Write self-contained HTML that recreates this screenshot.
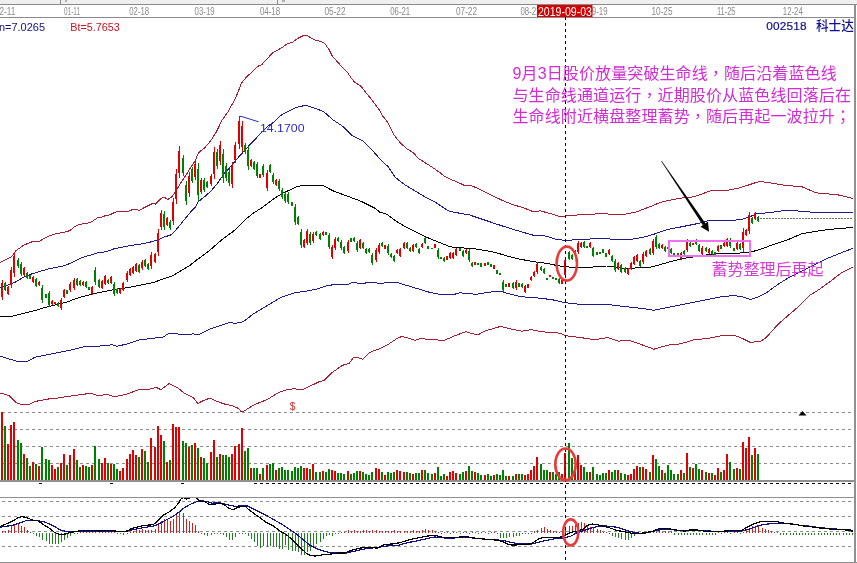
<!DOCTYPE html>
<html><head><meta charset="utf-8"><title>002518 科士达</title>
<style>
html,body{margin:0;padding:0;background:#fff;width:857px;height:563px;overflow:hidden}
svg{display:block}
</style></head><body>
<svg width="857" height="563" viewBox="0 0 857 563">
<defs><clipPath id="mc"><rect x="0" y="18" width="854" height="395"/></clipPath>
<clipPath id="dc"><rect x="0" y="498" width="854" height="64"/></clipPath></defs>
<rect width="857" height="563" fill="#fff"/>

<rect x="0" y="0" width="857" height="4" fill="#efefef"/>
<rect x="0" y="4" width="857" height="1" fill="#8a8a8a"/>
<rect x="0" y="17" width="854" height="1" fill="#8a8a8a"/>
<rect x="60" y="0" width="1" height="4" fill="#8a8a8a"/><rect x="277" y="0" width="1" height="4" fill="#8a8a8a"/>
<rect x="65" y="0" width="2" height="2" fill="#b0b0b0"/><rect x="282" y="0" width="3" height="2" fill="#b0b0b0"/>
<text x="-5" y="15" font-family="Liberation Sans, sans-serif" font-size="10" fill="#8a8a8a" textLength="20.3" lengthAdjust="spacingAndGlyphs">12-11</text>
<text x="64" y="15" font-family="Liberation Sans, sans-serif" font-size="10" fill="#8a8a8a" textLength="16" lengthAdjust="spacingAndGlyphs">01-11</text>
<text x="129.2" y="15" font-family="Liberation Sans, sans-serif" font-size="10" fill="#8a8a8a" textLength="20" lengthAdjust="spacingAndGlyphs">02-18</text>
<text x="194.6" y="15" font-family="Liberation Sans, sans-serif" font-size="10" fill="#8a8a8a" textLength="20" lengthAdjust="spacingAndGlyphs">03-19</text>
<text x="259.9" y="15" font-family="Liberation Sans, sans-serif" font-size="10" fill="#8a8a8a" textLength="20.3" lengthAdjust="spacingAndGlyphs">04-18</text>
<text x="324.5" y="15" font-family="Liberation Sans, sans-serif" font-size="10" fill="#8a8a8a" textLength="21" lengthAdjust="spacingAndGlyphs">05-22</text>
<text x="390.2" y="15" font-family="Liberation Sans, sans-serif" font-size="10" fill="#8a8a8a" textLength="20" lengthAdjust="spacingAndGlyphs">06-21</text>
<text x="456" y="15" font-family="Liberation Sans, sans-serif" font-size="10" fill="#8a8a8a" textLength="21" lengthAdjust="spacingAndGlyphs">07-22</text>
<text x="520.5" y="15" font-family="Liberation Sans, sans-serif" font-size="10" fill="#8a8a8a" textLength="20" lengthAdjust="spacingAndGlyphs">08-22</text>
<text x="587.5" y="15" font-family="Liberation Sans, sans-serif" font-size="10" fill="#8a8a8a" textLength="20" lengthAdjust="spacingAndGlyphs">09-19</text>
<text x="651.5" y="15" font-family="Liberation Sans, sans-serif" font-size="10" fill="#8a8a8a" textLength="21" lengthAdjust="spacingAndGlyphs">10-25</text>
<text x="717" y="15" font-family="Liberation Sans, sans-serif" font-size="10" fill="#8a8a8a" textLength="18.5" lengthAdjust="spacingAndGlyphs">11-25</text>
<text x="782.8" y="15" font-family="Liberation Sans, sans-serif" font-size="10" fill="#8a8a8a" textLength="20" lengthAdjust="spacingAndGlyphs">12-24</text>
<g clip-path="url(#mc)">
<polyline points="0.0,262.6 8.0,258.6 12.0,256.2 16.0,250.6 24.0,245.0 32.0,241.8 40.0,241.0 48.0,236.2 56.0,233.8 64.0,232.2 70.0,230.6 74.7,226.4 79.3,224.5 84.9,223.6 89.6,222.7 92.4,221.3 97.1,218.0 100.8,217.3 105.5,215.7 110.1,214.7 116.7,211.5 127.9,211.3 132.6,209.6 137.2,209.6 139.1,210.5 144.0,207.7 152.7,203.4 155.4,204.2 161.5,198.1 164.2,197.2 167.8,199.4 171.4,197.2 174.2,193.8 176.6,189.7 178.9,186.2 182.3,180.5 187.0,173.5 191.6,166.0 195.1,160.8 198.5,152.7 205.0,147.5 211.2,140.1 216.5,131.6 221.9,120.5 228.3,111.3 234.7,99.6 238.1,92.1 241.2,83.4 243.7,80.3 247.4,76.0 251.2,72.9 256.1,67.9 258.6,66.0 261.7,64.8 264.8,61.1 268.6,57.3 272.3,53.0 277.3,50.5 282.2,47.4 287.2,43.7 292.2,42.4 297.1,38.7 303.2,35.6 307.2,35.6 311.2,38.0 316.0,40.4 320.8,41.5 324.8,43.6 328.8,49.2 332.0,55.6 336.8,61.2 343.2,68.4 348.0,73.2 351.2,78.0 354.4,82.0 359.2,85.2 361.6,86.8 365.6,92.4 370.4,98.0 375.2,104.4 380.0,110.8 381.4,114.4 387.8,122.4 391.0,128.8 394.2,135.2 400.6,143.2 407.0,148.8 413.4,152.8 418.2,158.4 424.6,162.4 431.0,166.4 439.0,172.0 445.4,176.8 451.8,180.0 455.0,181.0 465.3,185.8 471.7,185.8 480.2,189.5 490.9,194.8 501.6,200.1 512.2,204.4 522.9,207.6 533.5,211.8 540.0,210.8 550.6,213.6 559.1,216.5 580.8,214.7 601.6,213.7 622.4,214.7 636.2,212.0 650.0,206.7 659.6,202.7 669.2,200.3 682.0,198.0 691.6,197.1 698.0,195.5 706.0,192.4 712.3,190.3 726.3,190.5 740.2,187.7 750.6,184.3 759.2,181.5 767.9,182.5 781.8,184.9 802.5,187.0 816.4,192.9 837.2,194.7 853.0,198.5" fill="none" stroke="#a81c32" stroke-width="1" stroke-linejoin="round" shape-rendering="crispEdges" />
<polyline points="0.0,392.9 9.3,395.7 16.3,402.7 23.3,405.0 30.3,403.9 35.0,401.5 46.7,399.2 58.3,398.0 70.0,396.1 81.7,394.5 91.0,393.3 98.0,395.7 107.4,394.5 114.4,396.8 126.0,394.5 140.0,389.1 149.4,389.1 156.4,387.5 161.0,389.8 169.2,383.5 177.4,387.5 184.4,393.3 193.7,398.0 197.7,403.5 203.0,400.8 209.8,398.1 216.5,401.3 224.5,404.0 231.7,405.5 238.8,408.6 241.5,412.0 243.3,411.5 254.0,404.8 267.5,399.4 278.2,392.7 286.3,390.0 294.3,388.7 302.4,390.0 310.4,386.0 318.5,382.0 323.8,380.6 331.9,372.6 342.6,365.3 349.3,363.2 353.3,357.8 358.7,357.8 362.7,359.2 369.5,352.5 380.2,348.4 388.2,344.4 396.3,339.0 401.7,336.4 409.7,338.5 415.1,340.4 420.4,338.5 433.4,339.8 444.2,340.3 454.9,335.8 465.6,331.7 477.7,335.0 484.4,331.2 500.5,326.4 508.6,328.5 522.0,331.2 531.4,329.6 540.8,331.7 559.6,333.1 566.3,335.8 581.0,337.6 594.5,339.8 607.9,337.6 618.6,341.1 629.3,340.3 642.8,345.1 653.8,349.2 667.3,345.2 680.7,343.8 694.1,339.8 707.5,338.5 720.9,335.8 734.4,335.2 742.4,338.5 750.5,342.5 761.2,341.1 766.6,337.1 777.3,325.0 788.0,315.6 798.8,306.3 809.5,295.5 820.2,288.8 831.0,280.8 841.7,272.7 853.0,267.0" fill="none" stroke="#a81c32" stroke-width="1" stroke-linejoin="round" shape-rendering="crispEdges" />
<polyline points="0.0,287.5 8.0,285.0 16.0,281.8 24.0,277.0 32.0,273.8 40.0,271.4 48.0,269.0 56.0,267.4 64.0,265.8 72.0,262.6 82.0,257.6 90.0,255.2 98.0,252.8 106.0,251.7 114.0,248.8 122.0,247.2 130.0,245.6 140.0,244.2 148.5,242.6 158.4,239.7 164.1,236.9 170.5,235.2 175.5,230.5 182.8,221.5 190.0,212.7 195.7,207.0 198.5,201.4 204.2,197.1 211.3,190.7 216.4,184.6 225.3,172.2 228.9,168.6 237.8,158.0 246.6,148.2 255.5,139.0 260.8,133.0 268.0,126.0 273.3,122.5 282.2,114.2 290.0,110.7 297.1,107.1 306.0,105.3 314.9,108.2 323.8,111.7 332.7,119.6 343.3,126.7 352.2,135.6 362.9,140.9 371.8,149.8 380.0,159.0 388.5,167.1 394.9,176.7 398.4,180.0 405.6,185.2 416.3,191.6 424.8,196.9 435.4,202.2 448.2,210.8 454.6,212.3 469.6,215.0 482.4,219.3 495.2,223.6 508.0,227.8 518.6,231.0 533.5,235.3 542.1,235.3 550.6,237.4 556.0,239.5 564.8,240.3 574.8,239.9 586.0,239.5 594.7,238.4 606.4,238.6 612.7,239.3 631.3,239.3 643.8,237.1 653.7,234.3 666.0,229.9 682.0,226.7 698.0,223.5 706.0,221.1 714.0,220.5 728.0,220.2 740.9,219.9 749.6,216.8 757.0,213.7 772.0,212.4 779.4,211.2 788.7,210.2 809.5,212.0 830.3,212.7 853.0,212.7" fill="none" stroke="#1e1a8e" stroke-width="1" stroke-linejoin="round" shape-rendering="crispEdges" />
<polyline points="0.0,356.0 7.0,358.3 16.3,361.1 28.0,361.1 35.0,357.2 46.7,354.8 58.3,352.5 70.0,350.2 84.0,346.7 98.0,346.2 112.0,344.8 116.7,346.2 126.0,344.3 140.0,339.7 151.7,338.5 163.4,336.9 168.0,333.8 177.4,333.8 182.0,335.0 193.7,333.8 197.7,335.0 208.4,329.7 221.8,325.1 229.9,322.4 235.3,323.5 243.3,321.6 254.0,313.5 267.5,305.5 280.9,297.4 294.3,292.9 305.0,291.3 315.8,289.4 326.5,285.9 337.2,284.0 349.3,284.0 353.3,282.1 361.4,284.0 366.8,282.7 382.9,283.2 386.9,282.1 398.0,282.8 404.2,284.7 416.7,288.4 429.1,292.2 441.5,294.7 454.0,294.4 460.2,292.8 476.4,294.3 485.1,292.8 497.6,291.0 501.3,291.6 507.5,293.4 520.0,296.5 534.0,297.8 540.8,298.2 554.2,300.1 564.9,302.7 581.0,304.4 594.5,304.9 607.9,304.4 621.3,306.2 634.7,307.6 650.0,309.5 653.8,310.3 667.3,307.6 680.7,304.9 694.1,302.2 707.5,299.5 720.9,296.9 734.4,295.5 742.4,296.9 750.5,299.5 758.5,296.9 766.6,292.8 777.3,284.8 788.0,278.1 801.5,271.4 814.9,264.7 828.3,258.0 841.7,252.6 853.0,248.3" fill="none" stroke="#1e1a8e" stroke-width="1" stroke-linejoin="round" shape-rendering="crispEdges" />
<polyline points="0.0,317.0 11.7,316.3 23.3,313.5 35.0,310.5 46.7,307.0 58.3,304.2 66.0,302.4 72.3,300.0 82.0,296.8 98.0,292.8 114.0,289.6 130.0,287.2 138.0,285.6 153.5,282.4 173.0,275.6 190.0,265.3 197.1,259.6 204.2,254.6 211.3,249.0 218.4,242.6 225.5,236.9 232.6,231.9 238.3,226.9 246.8,218.4 253.9,212.7 260.9,208.4 275.1,197.8 284.0,192.4 292.0,189.2 296.8,186.5 304.8,185.2 311.2,185.5 324.0,186.0 332.7,190.7 346.9,196.0 361.1,201.3 375.3,208.4 380.0,212.3 386.4,214.0 394.9,220.4 405.6,226.8 416.3,232.1 426.9,237.4 437.6,241.7 448.2,246.0 454.0,247.4 465.3,248.1 478.1,249.2 495.2,252.4 507.5,256.1 520.0,259.2 530.0,261.0 537.5,262.3 548.7,263.6 556.1,265.4 563.6,266.7 573.5,267.3 586.0,267.3 600.0,266.7 606.4,266.0 612.7,266.6 625.1,268.5 637.5,267.9 650.0,267.2 658.0,265.3 670.4,261.6 682.9,258.5 695.3,256.6 707.8,254.7 720.2,253.5 728.4,253.5 744.6,252.8 750.8,252.0 759.5,249.7 772.0,245.0 786.0,240.5 802.5,233.5 814.9,231.5 830.3,229.3 841.7,228.4 853.0,227.3" fill="none" stroke="#000" stroke-width="1" stroke-linejoin="round" shape-rendering="crispEdges" />
</g>
<line x1="2" y1="412.5" x2="852" y2="412.5" stroke="#8c8c8c" stroke-width="1" stroke-dasharray="3 3" stroke-dashoffset="0" shape-rendering="crispEdges"/>
<line x1="2" y1="429.5" x2="852" y2="429.5" stroke="#8c8c8c" stroke-width="1" stroke-dasharray="3 3" stroke-dashoffset="0" shape-rendering="crispEdges"/>
<line x1="2" y1="446.5" x2="852" y2="446.5" stroke="#8c8c8c" stroke-width="1" stroke-dasharray="3 3" stroke-dashoffset="0" shape-rendering="crispEdges"/>
<line x1="2" y1="463.5" x2="852" y2="463.5" stroke="#8c8c8c" stroke-width="1" stroke-dasharray="3 3" stroke-dashoffset="0" shape-rendering="crispEdges"/>
<line x1="2" y1="501.5" x2="852" y2="501.5" stroke="#8c8c8c" stroke-width="1" stroke-dasharray="3 3" stroke-dashoffset="0" shape-rendering="crispEdges"/>
<line x1="2" y1="516.5" x2="852" y2="516.5" stroke="#8c8c8c" stroke-width="1" stroke-dasharray="3 3" stroke-dashoffset="0" shape-rendering="crispEdges"/>
<line x1="2" y1="531.5" x2="852" y2="531.5" stroke="#8c8c8c" stroke-width="1" stroke-dasharray="3 3" stroke-dashoffset="0" shape-rendering="crispEdges"/>
<line x1="2" y1="546.5" x2="852" y2="546.5" stroke="#8c8c8c" stroke-width="1" stroke-dasharray="3 3" stroke-dashoffset="0" shape-rendering="crispEdges"/>
<rect x="0" y="480" width="855" height="2" fill="#909090"/>
<rect x="0" y="497" width="855" height="1" fill="#909090"/>
<rect x="0" y="562" width="857" height="1" fill="#909090"/>
<rect x="39" y="483" width="3" height="1" fill="#000"/><rect x="110" y="483" width="3" height="1" fill="#000"/><rect x="181" y="483" width="3" height="1" fill="#000"/>
<line x1="254" y1="483.5" x2="852" y2="483.5" stroke="#000" stroke-width="1" stroke-dasharray="3 3" stroke-dashoffset="0" shape-rendering="crispEdges"/>
<rect x="854" y="4" width="2" height="559" fill="#909090"/>
<g shape-rendering="crispEdges">
<rect x="2" y="280" width="1" height="20" fill="#e00000"/>
<rect x="1" y="283" width="2" height="14" fill="#e00000"/>
<rect x="5" y="282" width="1" height="9" fill="#008000"/>
<rect x="4" y="283" width="2" height="7" fill="#008000"/>
<rect x="8" y="286" width="1" height="9" fill="#e00000"/>
<rect x="7" y="287" width="2" height="7" fill="#e00000"/>
<rect x="11" y="267" width="1" height="21" fill="#e00000"/>
<rect x="10" y="270" width="2" height="15" fill="#e00000"/>
<rect x="14" y="252" width="1" height="25" fill="#e00000"/>
<rect x="13" y="256" width="2" height="17" fill="#e00000"/>
<rect x="18" y="258" width="1" height="10" fill="#008000"/>
<rect x="17" y="260" width="2" height="6" fill="#008000"/>
<rect x="21" y="262" width="1" height="14" fill="#008000"/>
<rect x="20" y="264" width="2" height="10" fill="#008000"/>
<rect x="24" y="267" width="1" height="9" fill="#e00000"/>
<rect x="23" y="268" width="2" height="7" fill="#e00000"/>
<rect x="27" y="272" width="1" height="7" fill="#008000"/>
<rect x="26" y="273" width="2" height="5" fill="#008000"/>
<rect x="30" y="275" width="1" height="4" fill="#008000"/>
<rect x="29" y="275" width="2" height="4" fill="#008000"/>
<rect x="33" y="276" width="1" height="7" fill="#e00000"/>
<rect x="32" y="277" width="2" height="5" fill="#e00000"/>
<rect x="36" y="278" width="1" height="9" fill="#008000"/>
<rect x="35" y="279" width="2" height="7" fill="#008000"/>
<rect x="39" y="281" width="1" height="5" fill="#e00000"/>
<rect x="38" y="282" width="2" height="3" fill="#e00000"/>
<rect x="42" y="285" width="1" height="18" fill="#008000"/>
<rect x="41" y="288" width="2" height="12" fill="#008000"/>
<rect x="46" y="294" width="1" height="4" fill="#008000"/>
<rect x="45" y="294" width="2" height="4" fill="#008000"/>
<rect x="49" y="291" width="1" height="16" fill="#008000"/>
<rect x="48" y="293" width="2" height="12" fill="#008000"/>
<rect x="52" y="300" width="1" height="5" fill="#e00000"/>
<rect x="51" y="301" width="2" height="3" fill="#e00000"/>
<rect x="55" y="302" width="1" height="2" fill="#e00000"/>
<rect x="54" y="302" width="2" height="2" fill="#e00000"/>
<rect x="58" y="302" width="1" height="5" fill="#008000"/>
<rect x="57" y="303" width="2" height="3" fill="#008000"/>
<rect x="61" y="298" width="1" height="12" fill="#e00000"/>
<rect x="60" y="300" width="2" height="8" fill="#e00000"/>
<rect x="64" y="289" width="1" height="9" fill="#e00000"/>
<rect x="63" y="290" width="2" height="7" fill="#e00000"/>
<rect x="67" y="290" width="1" height="4" fill="#008000"/>
<rect x="66" y="290" width="2" height="4" fill="#008000"/>
<rect x="70" y="282" width="1" height="10" fill="#e00000"/>
<rect x="69" y="284" width="2" height="6" fill="#e00000"/>
<rect x="74" y="278" width="1" height="12" fill="#e00000"/>
<rect x="73" y="280" width="2" height="8" fill="#e00000"/>
<rect x="77" y="278" width="1" height="8" fill="#008000"/>
<rect x="76" y="279" width="2" height="6" fill="#008000"/>
<rect x="80" y="280" width="1" height="6" fill="#008000"/>
<rect x="79" y="281" width="2" height="4" fill="#008000"/>
<rect x="83" y="281" width="1" height="5" fill="#e00000"/>
<rect x="82" y="282" width="2" height="3" fill="#e00000"/>
<rect x="86" y="281" width="1" height="7" fill="#008000"/>
<rect x="85" y="282" width="2" height="5" fill="#008000"/>
<rect x="89" y="287" width="1" height="3" fill="#008000"/>
<rect x="88" y="287" width="2" height="3" fill="#008000"/>
<rect x="92" y="286" width="1" height="9" fill="#e00000"/>
<rect x="91" y="287" width="2" height="7" fill="#e00000"/>
<rect x="95" y="267" width="1" height="18" fill="#008000"/>
<rect x="94" y="270" width="2" height="12" fill="#008000"/>
<rect x="99" y="279" width="1" height="9" fill="#008000"/>
<rect x="98" y="280" width="2" height="7" fill="#008000"/>
<rect x="102" y="280" width="1" height="9" fill="#e00000"/>
<rect x="101" y="281" width="2" height="7" fill="#e00000"/>
<rect x="105" y="275" width="1" height="10" fill="#e00000"/>
<rect x="104" y="276" width="2" height="8" fill="#e00000"/>
<rect x="108" y="279" width="1" height="5" fill="#008000"/>
<rect x="107" y="280" width="2" height="3" fill="#008000"/>
<rect x="111" y="276" width="1" height="8" fill="#e00000"/>
<rect x="110" y="277" width="2" height="6" fill="#e00000"/>
<rect x="114" y="282" width="1" height="14" fill="#008000"/>
<rect x="113" y="284" width="2" height="10" fill="#008000"/>
<rect x="117" y="288" width="1" height="6" fill="#008000"/>
<rect x="116" y="289" width="2" height="4" fill="#008000"/>
<rect x="120" y="288" width="1" height="6" fill="#e00000"/>
<rect x="119" y="289" width="2" height="4" fill="#e00000"/>
<rect x="123" y="282" width="1" height="9" fill="#e00000"/>
<rect x="122" y="283" width="2" height="7" fill="#e00000"/>
<rect x="127" y="271" width="1" height="11" fill="#e00000"/>
<rect x="126" y="273" width="2" height="7" fill="#e00000"/>
<rect x="130" y="268" width="1" height="8" fill="#e00000"/>
<rect x="129" y="269" width="2" height="6" fill="#e00000"/>
<rect x="133" y="266" width="1" height="8" fill="#e00000"/>
<rect x="132" y="267" width="2" height="6" fill="#e00000"/>
<rect x="136" y="263" width="1" height="9" fill="#e00000"/>
<rect x="135" y="264" width="2" height="7" fill="#e00000"/>
<rect x="139" y="264" width="1" height="9" fill="#008000"/>
<rect x="138" y="265" width="2" height="7" fill="#008000"/>
<rect x="142" y="260" width="1" height="10" fill="#e00000"/>
<rect x="141" y="262" width="2" height="6" fill="#e00000"/>
<rect x="145" y="259" width="1" height="8" fill="#008000"/>
<rect x="144" y="260" width="2" height="6" fill="#008000"/>
<rect x="148" y="263" width="1" height="7" fill="#008000"/>
<rect x="147" y="264" width="2" height="5" fill="#008000"/>
<rect x="151" y="252" width="1" height="17" fill="#e00000"/>
<rect x="150" y="255" width="2" height="11" fill="#e00000"/>
<rect x="155" y="253" width="1" height="10" fill="#e00000"/>
<rect x="154" y="254" width="2" height="8" fill="#e00000"/>
<rect x="158" y="229" width="1" height="27" fill="#e00000"/>
<rect x="157" y="233" width="2" height="19" fill="#e00000"/>
<rect x="161" y="210" width="1" height="20" fill="#e00000"/>
<rect x="160" y="213" width="2" height="14" fill="#e00000"/>
<rect x="164" y="211" width="1" height="19" fill="#008000"/>
<rect x="163" y="214" width="2" height="13" fill="#008000"/>
<rect x="167" y="217" width="1" height="9" fill="#e00000"/>
<rect x="166" y="218" width="2" height="7" fill="#e00000"/>
<rect x="170" y="220" width="1" height="10" fill="#008000"/>
<rect x="169" y="222" width="2" height="6" fill="#008000"/>
<rect x="173" y="198" width="1" height="27" fill="#e00000"/>
<rect x="172" y="202" width="2" height="19" fill="#e00000"/>
<rect x="176" y="169" width="1" height="35" fill="#e00000"/>
<rect x="175" y="174" width="2" height="25" fill="#e00000"/>
<rect x="179" y="146" width="1" height="32" fill="#e00000"/>
<rect x="178" y="151" width="2" height="22" fill="#e00000"/>
<rect x="183" y="155" width="1" height="21" fill="#008000"/>
<rect x="182" y="158" width="2" height="15" fill="#008000"/>
<rect x="186" y="181" width="1" height="24" fill="#008000"/>
<rect x="185" y="185" width="2" height="16" fill="#008000"/>
<rect x="189" y="172" width="1" height="25" fill="#e00000"/>
<rect x="188" y="176" width="2" height="17" fill="#e00000"/>
<rect x="192" y="167" width="1" height="16" fill="#008000"/>
<rect x="191" y="169" width="2" height="12" fill="#008000"/>
<rect x="195" y="161" width="1" height="19" fill="#e00000"/>
<rect x="194" y="164" width="2" height="13" fill="#e00000"/>
<rect x="198" y="163" width="1" height="38" fill="#008000"/>
<rect x="197" y="169" width="2" height="26" fill="#008000"/>
<rect x="201" y="178" width="1" height="16" fill="#e00000"/>
<rect x="200" y="180" width="2" height="12" fill="#e00000"/>
<rect x="204" y="178" width="1" height="14" fill="#008000"/>
<rect x="203" y="180" width="2" height="10" fill="#008000"/>
<rect x="207" y="181" width="1" height="7" fill="#008000"/>
<rect x="206" y="182" width="2" height="5" fill="#008000"/>
<rect x="211" y="174" width="1" height="12" fill="#e00000"/>
<rect x="210" y="176" width="2" height="8" fill="#e00000"/>
<rect x="214" y="147" width="1" height="32" fill="#e00000"/>
<rect x="213" y="152" width="2" height="22" fill="#e00000"/>
<rect x="217" y="149" width="1" height="20" fill="#008000"/>
<rect x="216" y="152" width="2" height="14" fill="#008000"/>
<rect x="220" y="141" width="1" height="24" fill="#e00000"/>
<rect x="219" y="145" width="2" height="16" fill="#e00000"/>
<rect x="223" y="149" width="1" height="34" fill="#008000"/>
<rect x="222" y="154" width="2" height="24" fill="#008000"/>
<rect x="226" y="163" width="1" height="18" fill="#008000"/>
<rect x="225" y="166" width="2" height="12" fill="#008000"/>
<rect x="229" y="169" width="1" height="17" fill="#008000"/>
<rect x="228" y="172" width="2" height="11" fill="#008000"/>
<rect x="232" y="162" width="1" height="26" fill="#e00000"/>
<rect x="231" y="166" width="2" height="18" fill="#e00000"/>
<rect x="235" y="142" width="1" height="21" fill="#e00000"/>
<rect x="234" y="145" width="2" height="15" fill="#e00000"/>
<rect x="239" y="116" width="1" height="33" fill="#e00000"/>
<rect x="238" y="121" width="2" height="23" fill="#e00000"/>
<rect x="242" y="121" width="1" height="31" fill="#e00000"/>
<rect x="241" y="126" width="2" height="21" fill="#e00000"/>
<rect x="245" y="143" width="1" height="11" fill="#008000"/>
<rect x="244" y="145" width="2" height="7" fill="#008000"/>
<rect x="248" y="146" width="1" height="24" fill="#008000"/>
<rect x="247" y="150" width="2" height="16" fill="#008000"/>
<rect x="251" y="159" width="1" height="8" fill="#e00000"/>
<rect x="250" y="160" width="2" height="6" fill="#e00000"/>
<rect x="254" y="161" width="1" height="9" fill="#008000"/>
<rect x="253" y="162" width="2" height="7" fill="#008000"/>
<rect x="257" y="162" width="1" height="16" fill="#008000"/>
<rect x="256" y="164" width="2" height="12" fill="#008000"/>
<rect x="260" y="174" width="1" height="4" fill="#e00000"/>
<rect x="259" y="174" width="2" height="4" fill="#e00000"/>
<rect x="263" y="164" width="1" height="13" fill="#008000"/>
<rect x="262" y="166" width="2" height="9" fill="#008000"/>
<rect x="267" y="170" width="1" height="21" fill="#e00000"/>
<rect x="266" y="173" width="2" height="15" fill="#e00000"/>
<rect x="270" y="164" width="1" height="9" fill="#008000"/>
<rect x="269" y="165" width="2" height="7" fill="#008000"/>
<rect x="273" y="173" width="1" height="11" fill="#008000"/>
<rect x="272" y="175" width="2" height="7" fill="#008000"/>
<rect x="276" y="179" width="1" height="7" fill="#e00000"/>
<rect x="275" y="180" width="2" height="5" fill="#e00000"/>
<rect x="279" y="179" width="1" height="12" fill="#008000"/>
<rect x="278" y="181" width="2" height="8" fill="#008000"/>
<rect x="282" y="188" width="1" height="11" fill="#008000"/>
<rect x="281" y="190" width="2" height="7" fill="#008000"/>
<rect x="285" y="192" width="1" height="11" fill="#008000"/>
<rect x="284" y="194" width="2" height="7" fill="#008000"/>
<rect x="288" y="192" width="1" height="12" fill="#008000"/>
<rect x="287" y="194" width="2" height="8" fill="#008000"/>
<rect x="292" y="202" width="1" height="4" fill="#008000"/>
<rect x="291" y="202" width="2" height="4" fill="#008000"/>
<rect x="295" y="204" width="1" height="21" fill="#008000"/>
<rect x="294" y="207" width="2" height="15" fill="#008000"/>
<rect x="298" y="216" width="1" height="9" fill="#008000"/>
<rect x="297" y="217" width="2" height="7" fill="#008000"/>
<rect x="301" y="229" width="1" height="19" fill="#008000"/>
<rect x="300" y="232" width="2" height="13" fill="#008000"/>
<rect x="304" y="239" width="1" height="9" fill="#e00000"/>
<rect x="303" y="240" width="2" height="7" fill="#e00000"/>
<rect x="307" y="229" width="1" height="16" fill="#e00000"/>
<rect x="306" y="231" width="2" height="12" fill="#e00000"/>
<rect x="310" y="232" width="1" height="13" fill="#008000"/>
<rect x="309" y="234" width="2" height="9" fill="#008000"/>
<rect x="313" y="232" width="1" height="11" fill="#e00000"/>
<rect x="312" y="234" width="2" height="7" fill="#e00000"/>
<rect x="316" y="231" width="1" height="5" fill="#008000"/>
<rect x="315" y="232" width="2" height="3" fill="#008000"/>
<rect x="320" y="233" width="1" height="7" fill="#008000"/>
<rect x="319" y="234" width="2" height="5" fill="#008000"/>
<rect x="323" y="231" width="1" height="5" fill="#e00000"/>
<rect x="322" y="232" width="2" height="3" fill="#e00000"/>
<rect x="326" y="232" width="1" height="3" fill="#008000"/>
<rect x="325" y="232" width="2" height="3" fill="#008000"/>
<rect x="329" y="233" width="1" height="16" fill="#008000"/>
<rect x="328" y="235" width="2" height="12" fill="#008000"/>
<rect x="332" y="245" width="1" height="14" fill="#e00000"/>
<rect x="331" y="247" width="2" height="10" fill="#e00000"/>
<rect x="335" y="237" width="1" height="13" fill="#e00000"/>
<rect x="334" y="239" width="2" height="9" fill="#e00000"/>
<rect x="338" y="237" width="1" height="5" fill="#008000"/>
<rect x="337" y="238" width="2" height="3" fill="#008000"/>
<rect x="341" y="240" width="1" height="10" fill="#008000"/>
<rect x="340" y="242" width="2" height="6" fill="#008000"/>
<rect x="344" y="246" width="1" height="8" fill="#008000"/>
<rect x="343" y="247" width="2" height="6" fill="#008000"/>
<rect x="348" y="240" width="1" height="13" fill="#e00000"/>
<rect x="347" y="242" width="2" height="9" fill="#e00000"/>
<rect x="351" y="238" width="1" height="4" fill="#008000"/>
<rect x="350" y="238" width="2" height="4" fill="#008000"/>
<rect x="354" y="237" width="1" height="5" fill="#008000"/>
<rect x="353" y="238" width="2" height="3" fill="#008000"/>
<rect x="357" y="241" width="1" height="11" fill="#008000"/>
<rect x="356" y="243" width="2" height="7" fill="#008000"/>
<rect x="360" y="239" width="1" height="10" fill="#e00000"/>
<rect x="359" y="240" width="2" height="8" fill="#e00000"/>
<rect x="363" y="242" width="1" height="7" fill="#008000"/>
<rect x="362" y="243" width="2" height="5" fill="#008000"/>
<rect x="366" y="248" width="1" height="6" fill="#008000"/>
<rect x="365" y="249" width="2" height="4" fill="#008000"/>
<rect x="369" y="248" width="1" height="5" fill="#008000"/>
<rect x="368" y="249" width="2" height="3" fill="#008000"/>
<rect x="372" y="253" width="1" height="12" fill="#008000"/>
<rect x="371" y="255" width="2" height="8" fill="#008000"/>
<rect x="376" y="248" width="1" height="14" fill="#e00000"/>
<rect x="375" y="250" width="2" height="10" fill="#e00000"/>
<rect x="379" y="243" width="1" height="11" fill="#e00000"/>
<rect x="378" y="245" width="2" height="7" fill="#e00000"/>
<rect x="382" y="242" width="1" height="5" fill="#008000"/>
<rect x="381" y="243" width="2" height="3" fill="#008000"/>
<rect x="385" y="245" width="1" height="4" fill="#e00000"/>
<rect x="384" y="245" width="2" height="4" fill="#e00000"/>
<rect x="388" y="244" width="1" height="11" fill="#008000"/>
<rect x="387" y="246" width="2" height="7" fill="#008000"/>
<rect x="391" y="253" width="1" height="5" fill="#008000"/>
<rect x="390" y="254" width="2" height="3" fill="#008000"/>
<rect x="394" y="255" width="1" height="7" fill="#008000"/>
<rect x="393" y="256" width="2" height="5" fill="#008000"/>
<rect x="397" y="249" width="1" height="5" fill="#e00000"/>
<rect x="396" y="250" width="2" height="3" fill="#e00000"/>
<rect x="400" y="248" width="1" height="9" fill="#e00000"/>
<rect x="399" y="249" width="2" height="7" fill="#e00000"/>
<rect x="404" y="242" width="1" height="7" fill="#e00000"/>
<rect x="403" y="243" width="2" height="5" fill="#e00000"/>
<rect x="407" y="242" width="1" height="7" fill="#008000"/>
<rect x="406" y="243" width="2" height="5" fill="#008000"/>
<rect x="410" y="247" width="1" height="5" fill="#008000"/>
<rect x="409" y="248" width="2" height="3" fill="#008000"/>
<rect x="413" y="244" width="1" height="8" fill="#e00000"/>
<rect x="412" y="245" width="2" height="6" fill="#e00000"/>
<rect x="416" y="243" width="1" height="5" fill="#008000"/>
<rect x="415" y="244" width="2" height="3" fill="#008000"/>
<rect x="419" y="248" width="1" height="6" fill="#008000"/>
<rect x="418" y="249" width="2" height="4" fill="#008000"/>
<rect x="422" y="243" width="1" height="5" fill="#e00000"/>
<rect x="421" y="244" width="2" height="3" fill="#e00000"/>
<rect x="425" y="237" width="1" height="7" fill="#008000"/>
<rect x="424" y="238" width="2" height="5" fill="#008000"/>
<rect x="428" y="246" width="1" height="3" fill="#008000"/>
<rect x="427" y="246" width="2" height="3" fill="#008000"/>
<rect x="432" y="248" width="1" height="1" fill="#008000"/>
<rect x="431" y="248" width="2" height="1" fill="#008000"/>
<rect x="435" y="244" width="1" height="4" fill="#e00000"/>
<rect x="434" y="244" width="2" height="4" fill="#e00000"/>
<rect x="438" y="248" width="1" height="11" fill="#008000"/>
<rect x="437" y="250" width="2" height="7" fill="#008000"/>
<rect x="441" y="257" width="1" height="2" fill="#008000"/>
<rect x="440" y="257" width="2" height="2" fill="#008000"/>
<rect x="444" y="257" width="1" height="5" fill="#008000"/>
<rect x="443" y="258" width="2" height="3" fill="#008000"/>
<rect x="447" y="256" width="1" height="4" fill="#e00000"/>
<rect x="446" y="256" width="2" height="4" fill="#e00000"/>
<rect x="450" y="252" width="1" height="7" fill="#e00000"/>
<rect x="449" y="253" width="2" height="5" fill="#e00000"/>
<rect x="453" y="252" width="1" height="7" fill="#e00000"/>
<rect x="452" y="253" width="2" height="5" fill="#e00000"/>
<rect x="456" y="248" width="1" height="8" fill="#e00000"/>
<rect x="455" y="249" width="2" height="6" fill="#e00000"/>
<rect x="460" y="248" width="1" height="3" fill="#008000"/>
<rect x="459" y="248" width="2" height="3" fill="#008000"/>
<rect x="463" y="250" width="1" height="7" fill="#008000"/>
<rect x="462" y="251" width="2" height="5" fill="#008000"/>
<rect x="466" y="249" width="1" height="5" fill="#e00000"/>
<rect x="465" y="250" width="2" height="3" fill="#e00000"/>
<rect x="469" y="249" width="1" height="13" fill="#008000"/>
<rect x="468" y="251" width="2" height="9" fill="#008000"/>
<rect x="472" y="262" width="1" height="5" fill="#008000"/>
<rect x="471" y="263" width="2" height="3" fill="#008000"/>
<rect x="475" y="262" width="1" height="3" fill="#e00000"/>
<rect x="474" y="262" width="2" height="3" fill="#e00000"/>
<rect x="478" y="263" width="1" height="2" fill="#008000"/>
<rect x="477" y="263" width="2" height="2" fill="#008000"/>
<rect x="481" y="263" width="1" height="4" fill="#008000"/>
<rect x="480" y="263" width="2" height="4" fill="#008000"/>
<rect x="485" y="263" width="1" height="3" fill="#e00000"/>
<rect x="484" y="263" width="2" height="3" fill="#e00000"/>
<rect x="488" y="262" width="1" height="3" fill="#008000"/>
<rect x="487" y="262" width="2" height="3" fill="#008000"/>
<rect x="491" y="264" width="1" height="3" fill="#008000"/>
<rect x="490" y="264" width="2" height="3" fill="#008000"/>
<rect x="494" y="265" width="1" height="4" fill="#e00000"/>
<rect x="493" y="265" width="2" height="4" fill="#e00000"/>
<rect x="497" y="270" width="1" height="4" fill="#008000"/>
<rect x="496" y="270" width="2" height="4" fill="#008000"/>
<rect x="500" y="273" width="1" height="2" fill="#008000"/>
<rect x="499" y="273" width="2" height="2" fill="#008000"/>
<rect x="503" y="280" width="1" height="12" fill="#008000"/>
<rect x="502" y="282" width="2" height="8" fill="#008000"/>
<rect x="506" y="284" width="1" height="3" fill="#008000"/>
<rect x="505" y="284" width="2" height="3" fill="#008000"/>
<rect x="509" y="283" width="1" height="4" fill="#e00000"/>
<rect x="508" y="283" width="2" height="4" fill="#e00000"/>
<rect x="513" y="282" width="1" height="7" fill="#008000"/>
<rect x="512" y="283" width="2" height="5" fill="#008000"/>
<rect x="516" y="280" width="1" height="10" fill="#e00000"/>
<rect x="515" y="282" width="2" height="6" fill="#e00000"/>
<rect x="519" y="283" width="1" height="4" fill="#008000"/>
<rect x="518" y="283" width="2" height="4" fill="#008000"/>
<rect x="522" y="283" width="1" height="5" fill="#008000"/>
<rect x="521" y="284" width="2" height="3" fill="#008000"/>
<rect x="525" y="285" width="1" height="8" fill="#e00000"/>
<rect x="524" y="286" width="2" height="6" fill="#e00000"/>
<rect x="528" y="284" width="1" height="4" fill="#e00000"/>
<rect x="527" y="284" width="2" height="4" fill="#e00000"/>
<rect x="531" y="276" width="1" height="5" fill="#e00000"/>
<rect x="530" y="277" width="2" height="3" fill="#e00000"/>
<rect x="534" y="271" width="1" height="6" fill="#e00000"/>
<rect x="533" y="272" width="2" height="4" fill="#e00000"/>
<rect x="537" y="262" width="1" height="12" fill="#e00000"/>
<rect x="536" y="264" width="2" height="8" fill="#e00000"/>
<rect x="541" y="266" width="1" height="5" fill="#008000"/>
<rect x="540" y="267" width="2" height="3" fill="#008000"/>
<rect x="544" y="268" width="1" height="6" fill="#008000"/>
<rect x="543" y="269" width="2" height="4" fill="#008000"/>
<rect x="547" y="278" width="1" height="2" fill="#008000"/>
<rect x="546" y="278" width="2" height="2" fill="#008000"/>
<rect x="550" y="275" width="1" height="2" fill="#e00000"/>
<rect x="549" y="275" width="2" height="2" fill="#e00000"/>
<rect x="553" y="277" width="1" height="2" fill="#008000"/>
<rect x="552" y="277" width="2" height="2" fill="#008000"/>
<rect x="556" y="278" width="1" height="2" fill="#008000"/>
<rect x="555" y="278" width="2" height="2" fill="#008000"/>
<rect x="559" y="278" width="1" height="6" fill="#008000"/>
<rect x="558" y="279" width="2" height="4" fill="#008000"/>
<rect x="562" y="280" width="1" height="4" fill="#e00000"/>
<rect x="561" y="280" width="2" height="4" fill="#e00000"/>
<rect x="565" y="257" width="1" height="21" fill="#e00000"/>
<rect x="564" y="260" width="2" height="15" fill="#e00000"/>
<rect x="569" y="251" width="1" height="9" fill="#008000"/>
<rect x="568" y="252" width="2" height="7" fill="#008000"/>
<rect x="572" y="254" width="1" height="6" fill="#008000"/>
<rect x="571" y="255" width="2" height="4" fill="#008000"/>
<rect x="575" y="250" width="1" height="6" fill="#e00000"/>
<rect x="574" y="251" width="2" height="4" fill="#e00000"/>
<rect x="578" y="241" width="1" height="13" fill="#e00000"/>
<rect x="577" y="243" width="2" height="9" fill="#e00000"/>
<rect x="581" y="242" width="1" height="6" fill="#e00000"/>
<rect x="580" y="243" width="2" height="4" fill="#e00000"/>
<rect x="584" y="241" width="1" height="7" fill="#008000"/>
<rect x="583" y="242" width="2" height="5" fill="#008000"/>
<rect x="587" y="246" width="1" height="2" fill="#008000"/>
<rect x="586" y="246" width="2" height="2" fill="#008000"/>
<rect x="590" y="242" width="1" height="6" fill="#e00000"/>
<rect x="589" y="243" width="2" height="4" fill="#e00000"/>
<rect x="593" y="247" width="1" height="10" fill="#008000"/>
<rect x="592" y="248" width="2" height="8" fill="#008000"/>
<rect x="597" y="252" width="1" height="3" fill="#008000"/>
<rect x="596" y="252" width="2" height="3" fill="#008000"/>
<rect x="600" y="252" width="1" height="2" fill="#008000"/>
<rect x="599" y="252" width="2" height="2" fill="#008000"/>
<rect x="603" y="249" width="1" height="4" fill="#008000"/>
<rect x="602" y="249" width="2" height="4" fill="#008000"/>
<rect x="606" y="253" width="1" height="4" fill="#008000"/>
<rect x="605" y="253" width="2" height="4" fill="#008000"/>
<rect x="609" y="249" width="1" height="6" fill="#e00000"/>
<rect x="608" y="250" width="2" height="4" fill="#e00000"/>
<rect x="612" y="255" width="1" height="7" fill="#008000"/>
<rect x="611" y="256" width="2" height="5" fill="#008000"/>
<rect x="615" y="259" width="1" height="13" fill="#008000"/>
<rect x="614" y="261" width="2" height="9" fill="#008000"/>
<rect x="618" y="262" width="1" height="8" fill="#e00000"/>
<rect x="617" y="263" width="2" height="6" fill="#e00000"/>
<rect x="621" y="264" width="1" height="9" fill="#008000"/>
<rect x="620" y="265" width="2" height="7" fill="#008000"/>
<rect x="625" y="267" width="1" height="6" fill="#008000"/>
<rect x="624" y="268" width="2" height="4" fill="#008000"/>
<rect x="628" y="268" width="1" height="7" fill="#e00000"/>
<rect x="627" y="269" width="2" height="5" fill="#e00000"/>
<rect x="631" y="262" width="1" height="8" fill="#e00000"/>
<rect x="630" y="263" width="2" height="6" fill="#e00000"/>
<rect x="634" y="256" width="1" height="9" fill="#e00000"/>
<rect x="633" y="257" width="2" height="7" fill="#e00000"/>
<rect x="637" y="254" width="1" height="8" fill="#e00000"/>
<rect x="636" y="255" width="2" height="6" fill="#e00000"/>
<rect x="640" y="260" width="1" height="7" fill="#008000"/>
<rect x="639" y="261" width="2" height="5" fill="#008000"/>
<rect x="643" y="252" width="1" height="12" fill="#e00000"/>
<rect x="642" y="254" width="2" height="8" fill="#e00000"/>
<rect x="646" y="250" width="1" height="7" fill="#e00000"/>
<rect x="645" y="251" width="2" height="5" fill="#e00000"/>
<rect x="650" y="248" width="1" height="7" fill="#008000"/>
<rect x="649" y="249" width="2" height="5" fill="#008000"/>
<rect x="653" y="239" width="1" height="16" fill="#e00000"/>
<rect x="652" y="241" width="2" height="12" fill="#e00000"/>
<rect x="656" y="235" width="1" height="14" fill="#008000"/>
<rect x="655" y="237" width="2" height="10" fill="#008000"/>
<rect x="659" y="243" width="1" height="6" fill="#008000"/>
<rect x="658" y="244" width="2" height="4" fill="#008000"/>
<rect x="662" y="244" width="1" height="5" fill="#e00000"/>
<rect x="661" y="245" width="2" height="3" fill="#e00000"/>
<rect x="665" y="246" width="1" height="6" fill="#008000"/>
<rect x="664" y="247" width="2" height="4" fill="#008000"/>
<rect x="668" y="247" width="1" height="2" fill="#008000"/>
<rect x="667" y="247" width="2" height="2" fill="#008000"/>
<rect x="671" y="248" width="1" height="6" fill="#008000"/>
<rect x="670" y="249" width="2" height="4" fill="#008000"/>
<rect x="674" y="253" width="1" height="4" fill="#008000"/>
<rect x="673" y="253" width="2" height="4" fill="#008000"/>
<rect x="678" y="253" width="1" height="3" fill="#008000"/>
<rect x="677" y="253" width="2" height="3" fill="#008000"/>
<rect x="681" y="252" width="1" height="8" fill="#e00000"/>
<rect x="680" y="253" width="2" height="6" fill="#e00000"/>
<rect x="684" y="250" width="1" height="5" fill="#008000"/>
<rect x="683" y="251" width="2" height="3" fill="#008000"/>
<rect x="687" y="239" width="1" height="13" fill="#e00000"/>
<rect x="686" y="241" width="2" height="9" fill="#e00000"/>
<rect x="690" y="242" width="1" height="5" fill="#008000"/>
<rect x="689" y="243" width="2" height="3" fill="#008000"/>
<rect x="693" y="243" width="1" height="2" fill="#e00000"/>
<rect x="692" y="243" width="2" height="2" fill="#e00000"/>
<rect x="696" y="239" width="1" height="6" fill="#008000"/>
<rect x="695" y="240" width="2" height="4" fill="#008000"/>
<rect x="699" y="244" width="1" height="8" fill="#008000"/>
<rect x="698" y="245" width="2" height="6" fill="#008000"/>
<rect x="702" y="246" width="1" height="10" fill="#e00000"/>
<rect x="701" y="248" width="2" height="6" fill="#e00000"/>
<rect x="706" y="247" width="1" height="5" fill="#008000"/>
<rect x="705" y="248" width="2" height="3" fill="#008000"/>
<rect x="709" y="248" width="1" height="6" fill="#e00000"/>
<rect x="708" y="249" width="2" height="4" fill="#e00000"/>
<rect x="712" y="250" width="1" height="5" fill="#008000"/>
<rect x="711" y="251" width="2" height="3" fill="#008000"/>
<rect x="715" y="252" width="1" height="3" fill="#008000"/>
<rect x="714" y="252" width="2" height="3" fill="#008000"/>
<rect x="718" y="245" width="1" height="7" fill="#e00000"/>
<rect x="717" y="246" width="2" height="5" fill="#e00000"/>
<rect x="721" y="245" width="1" height="4" fill="#008000"/>
<rect x="720" y="245" width="2" height="4" fill="#008000"/>
<rect x="724" y="242" width="1" height="5" fill="#e00000"/>
<rect x="723" y="243" width="2" height="3" fill="#e00000"/>
<rect x="727" y="238" width="1" height="9" fill="#e00000"/>
<rect x="726" y="239" width="2" height="7" fill="#e00000"/>
<rect x="730" y="238" width="1" height="10" fill="#008000"/>
<rect x="729" y="240" width="2" height="6" fill="#008000"/>
<rect x="734" y="248" width="1" height="3" fill="#008000"/>
<rect x="733" y="248" width="2" height="3" fill="#008000"/>
<rect x="737" y="242" width="1" height="8" fill="#e00000"/>
<rect x="736" y="243" width="2" height="6" fill="#e00000"/>
<rect x="740" y="243" width="1" height="7" fill="#008000"/>
<rect x="739" y="244" width="2" height="5" fill="#008000"/>
<rect x="743" y="228" width="1" height="24" fill="#e00000"/>
<rect x="742" y="232" width="2" height="16" fill="#e00000"/>
<rect x="746" y="229" width="1" height="7" fill="#e00000"/>
<rect x="745" y="230" width="2" height="5" fill="#e00000"/>
<rect x="749" y="212" width="1" height="22" fill="#e00000"/>
<rect x="748" y="215" width="2" height="16" fill="#e00000"/>
<rect x="752" y="217" width="1" height="7" fill="#008000"/>
<rect x="751" y="218" width="2" height="5" fill="#008000"/>
<rect x="755" y="212" width="1" height="8" fill="#e00000"/>
<rect x="754" y="213" width="2" height="6" fill="#e00000"/>
<rect x="758" y="216" width="1" height="6" fill="#008000"/>
<rect x="757" y="217" width="2" height="4" fill="#008000"/>
<rect x="1" y="412" width="2" height="68" fill="#e00000"/>
<rect x="4" y="426" width="2" height="54" fill="#008000"/>
<rect x="7" y="444" width="2" height="36" fill="#e00000"/>
<rect x="10" y="425" width="2" height="55" fill="#e00000"/>
<rect x="13" y="422" width="2" height="58" fill="#e00000"/>
<rect x="17" y="440" width="2" height="40" fill="#008000"/>
<rect x="20" y="443" width="2" height="37" fill="#008000"/>
<rect x="23" y="454" width="2" height="26" fill="#e00000"/>
<rect x="26" y="458" width="2" height="22" fill="#008000"/>
<rect x="29" y="466" width="2" height="14" fill="#008000"/>
<rect x="32" y="462" width="2" height="18" fill="#e00000"/>
<rect x="35" y="464" width="2" height="16" fill="#008000"/>
<rect x="38" y="466" width="2" height="14" fill="#e00000"/>
<rect x="41" y="447" width="2" height="33" fill="#008000"/>
<rect x="45" y="459" width="2" height="21" fill="#008000"/>
<rect x="48" y="460" width="2" height="20" fill="#008000"/>
<rect x="51" y="465" width="2" height="15" fill="#e00000"/>
<rect x="54" y="469" width="2" height="11" fill="#e00000"/>
<rect x="57" y="467" width="2" height="13" fill="#008000"/>
<rect x="60" y="463" width="2" height="17" fill="#e00000"/>
<rect x="63" y="454" width="2" height="26" fill="#e00000"/>
<rect x="66" y="465" width="2" height="15" fill="#008000"/>
<rect x="69" y="455" width="2" height="25" fill="#e00000"/>
<rect x="73" y="449" width="2" height="31" fill="#e00000"/>
<rect x="76" y="460" width="2" height="20" fill="#008000"/>
<rect x="79" y="467" width="2" height="13" fill="#008000"/>
<rect x="82" y="465" width="2" height="15" fill="#e00000"/>
<rect x="85" y="466" width="2" height="14" fill="#008000"/>
<rect x="88" y="467" width="2" height="13" fill="#008000"/>
<rect x="91" y="465" width="2" height="15" fill="#e00000"/>
<rect x="94" y="446" width="2" height="34" fill="#008000"/>
<rect x="98" y="459" width="2" height="21" fill="#008000"/>
<rect x="101" y="463" width="2" height="17" fill="#e00000"/>
<rect x="104" y="458" width="2" height="22" fill="#e00000"/>
<rect x="107" y="463" width="2" height="17" fill="#008000"/>
<rect x="110" y="464" width="2" height="16" fill="#e00000"/>
<rect x="113" y="464" width="2" height="16" fill="#008000"/>
<rect x="116" y="469" width="2" height="11" fill="#008000"/>
<rect x="119" y="471" width="2" height="9" fill="#e00000"/>
<rect x="122" y="468" width="2" height="12" fill="#e00000"/>
<rect x="126" y="459" width="2" height="21" fill="#e00000"/>
<rect x="129" y="454" width="2" height="26" fill="#e00000"/>
<rect x="132" y="450" width="2" height="30" fill="#e00000"/>
<rect x="135" y="455" width="2" height="25" fill="#e00000"/>
<rect x="138" y="457" width="2" height="23" fill="#008000"/>
<rect x="141" y="449" width="2" height="31" fill="#e00000"/>
<rect x="144" y="451" width="2" height="29" fill="#008000"/>
<rect x="147" y="462" width="2" height="18" fill="#008000"/>
<rect x="150" y="438" width="2" height="42" fill="#e00000"/>
<rect x="154" y="447" width="2" height="33" fill="#e00000"/>
<rect x="157" y="426" width="2" height="54" fill="#e00000"/>
<rect x="160" y="435" width="2" height="45" fill="#e00000"/>
<rect x="163" y="441" width="2" height="39" fill="#008000"/>
<rect x="166" y="462" width="2" height="18" fill="#e00000"/>
<rect x="169" y="460" width="2" height="20" fill="#008000"/>
<rect x="172" y="424" width="2" height="56" fill="#e00000"/>
<rect x="175" y="427" width="2" height="53" fill="#e00000"/>
<rect x="178" y="427" width="2" height="53" fill="#e00000"/>
<rect x="182" y="441" width="2" height="39" fill="#008000"/>
<rect x="185" y="443" width="2" height="37" fill="#008000"/>
<rect x="188" y="447" width="2" height="33" fill="#e00000"/>
<rect x="191" y="445" width="2" height="35" fill="#008000"/>
<rect x="194" y="443" width="2" height="37" fill="#e00000"/>
<rect x="197" y="448" width="2" height="32" fill="#008000"/>
<rect x="200" y="457" width="2" height="23" fill="#e00000"/>
<rect x="203" y="458" width="2" height="22" fill="#008000"/>
<rect x="206" y="463" width="2" height="17" fill="#008000"/>
<rect x="210" y="452" width="2" height="28" fill="#e00000"/>
<rect x="213" y="440" width="2" height="40" fill="#e00000"/>
<rect x="216" y="457" width="2" height="23" fill="#008000"/>
<rect x="219" y="454" width="2" height="26" fill="#e00000"/>
<rect x="222" y="455" width="2" height="25" fill="#008000"/>
<rect x="225" y="455" width="2" height="25" fill="#008000"/>
<rect x="228" y="457" width="2" height="23" fill="#008000"/>
<rect x="231" y="454" width="2" height="26" fill="#e00000"/>
<rect x="234" y="446" width="2" height="34" fill="#e00000"/>
<rect x="238" y="444" width="2" height="36" fill="#e00000"/>
<rect x="241" y="428" width="2" height="52" fill="#e00000"/>
<rect x="244" y="451" width="2" height="29" fill="#008000"/>
<rect x="247" y="448" width="2" height="32" fill="#008000"/>
<rect x="250" y="468" width="2" height="12" fill="#e00000"/>
<rect x="253" y="468" width="2" height="12" fill="#008000"/>
<rect x="256" y="468" width="2" height="12" fill="#008000"/>
<rect x="259" y="474" width="2" height="6" fill="#e00000"/>
<rect x="262" y="468" width="2" height="12" fill="#008000"/>
<rect x="266" y="465" width="2" height="15" fill="#e00000"/>
<rect x="269" y="464" width="2" height="16" fill="#008000"/>
<rect x="272" y="463" width="2" height="17" fill="#008000"/>
<rect x="275" y="470" width="2" height="10" fill="#e00000"/>
<rect x="278" y="468" width="2" height="12" fill="#008000"/>
<rect x="281" y="467" width="2" height="13" fill="#008000"/>
<rect x="284" y="470" width="2" height="10" fill="#008000"/>
<rect x="287" y="470" width="2" height="10" fill="#008000"/>
<rect x="291" y="471" width="2" height="9" fill="#008000"/>
<rect x="294" y="467" width="2" height="13" fill="#008000"/>
<rect x="297" y="468" width="2" height="12" fill="#008000"/>
<rect x="300" y="466" width="2" height="14" fill="#008000"/>
<rect x="303" y="468" width="2" height="12" fill="#e00000"/>
<rect x="306" y="468" width="2" height="12" fill="#e00000"/>
<rect x="309" y="469" width="2" height="11" fill="#008000"/>
<rect x="312" y="464" width="2" height="16" fill="#e00000"/>
<rect x="315" y="472" width="2" height="8" fill="#008000"/>
<rect x="319" y="472" width="2" height="8" fill="#008000"/>
<rect x="322" y="471" width="2" height="9" fill="#e00000"/>
<rect x="325" y="472" width="2" height="8" fill="#008000"/>
<rect x="328" y="469" width="2" height="11" fill="#008000"/>
<rect x="331" y="470" width="2" height="10" fill="#e00000"/>
<rect x="334" y="471" width="2" height="9" fill="#e00000"/>
<rect x="337" y="473" width="2" height="7" fill="#008000"/>
<rect x="340" y="473" width="2" height="7" fill="#008000"/>
<rect x="343" y="474" width="2" height="6" fill="#008000"/>
<rect x="347" y="471" width="2" height="9" fill="#e00000"/>
<rect x="350" y="474" width="2" height="6" fill="#008000"/>
<rect x="353" y="473" width="2" height="7" fill="#008000"/>
<rect x="356" y="471" width="2" height="9" fill="#008000"/>
<rect x="359" y="471" width="2" height="9" fill="#e00000"/>
<rect x="362" y="472" width="2" height="8" fill="#008000"/>
<rect x="365" y="474" width="2" height="6" fill="#008000"/>
<rect x="368" y="475" width="2" height="5" fill="#008000"/>
<rect x="371" y="472" width="2" height="8" fill="#008000"/>
<rect x="375" y="468" width="2" height="12" fill="#e00000"/>
<rect x="378" y="469" width="2" height="11" fill="#e00000"/>
<rect x="381" y="472" width="2" height="8" fill="#008000"/>
<rect x="384" y="475" width="2" height="5" fill="#e00000"/>
<rect x="387" y="472" width="2" height="8" fill="#008000"/>
<rect x="390" y="473" width="2" height="7" fill="#008000"/>
<rect x="393" y="472" width="2" height="8" fill="#008000"/>
<rect x="396" y="470" width="2" height="10" fill="#e00000"/>
<rect x="399" y="471" width="2" height="9" fill="#e00000"/>
<rect x="403" y="472" width="2" height="8" fill="#e00000"/>
<rect x="406" y="472" width="2" height="8" fill="#008000"/>
<rect x="409" y="473" width="2" height="7" fill="#008000"/>
<rect x="412" y="474" width="2" height="6" fill="#e00000"/>
<rect x="415" y="473" width="2" height="7" fill="#008000"/>
<rect x="418" y="473" width="2" height="7" fill="#008000"/>
<rect x="421" y="470" width="2" height="10" fill="#e00000"/>
<rect x="424" y="470" width="2" height="10" fill="#008000"/>
<rect x="427" y="473" width="2" height="7" fill="#008000"/>
<rect x="431" y="474" width="2" height="6" fill="#008000"/>
<rect x="434" y="473" width="2" height="7" fill="#e00000"/>
<rect x="437" y="467" width="2" height="13" fill="#008000"/>
<rect x="440" y="476" width="2" height="4" fill="#008000"/>
<rect x="443" y="474" width="2" height="6" fill="#008000"/>
<rect x="446" y="476" width="2" height="4" fill="#e00000"/>
<rect x="449" y="472" width="2" height="8" fill="#e00000"/>
<rect x="452" y="471" width="2" height="9" fill="#e00000"/>
<rect x="455" y="473" width="2" height="7" fill="#e00000"/>
<rect x="459" y="474" width="2" height="6" fill="#008000"/>
<rect x="462" y="472" width="2" height="8" fill="#008000"/>
<rect x="465" y="471" width="2" height="9" fill="#e00000"/>
<rect x="468" y="466" width="2" height="14" fill="#008000"/>
<rect x="471" y="471" width="2" height="9" fill="#008000"/>
<rect x="474" y="472" width="2" height="8" fill="#e00000"/>
<rect x="477" y="473" width="2" height="7" fill="#008000"/>
<rect x="480" y="475" width="2" height="5" fill="#008000"/>
<rect x="484" y="475" width="2" height="5" fill="#e00000"/>
<rect x="487" y="474" width="2" height="6" fill="#008000"/>
<rect x="490" y="476" width="2" height="4" fill="#008000"/>
<rect x="493" y="475" width="2" height="5" fill="#e00000"/>
<rect x="496" y="474" width="2" height="6" fill="#008000"/>
<rect x="499" y="475" width="2" height="5" fill="#008000"/>
<rect x="502" y="470" width="2" height="10" fill="#008000"/>
<rect x="505" y="476" width="2" height="4" fill="#008000"/>
<rect x="508" y="476" width="2" height="4" fill="#e00000"/>
<rect x="512" y="476" width="2" height="4" fill="#008000"/>
<rect x="515" y="474" width="2" height="6" fill="#e00000"/>
<rect x="518" y="474" width="2" height="6" fill="#008000"/>
<rect x="521" y="474" width="2" height="6" fill="#008000"/>
<rect x="524" y="475" width="2" height="5" fill="#e00000"/>
<rect x="527" y="474" width="2" height="6" fill="#e00000"/>
<rect x="530" y="470" width="2" height="10" fill="#e00000"/>
<rect x="533" y="466" width="2" height="14" fill="#e00000"/>
<rect x="536" y="457" width="2" height="23" fill="#e00000"/>
<rect x="540" y="464" width="2" height="16" fill="#008000"/>
<rect x="543" y="470" width="2" height="10" fill="#008000"/>
<rect x="546" y="470" width="2" height="10" fill="#008000"/>
<rect x="549" y="472" width="2" height="8" fill="#e00000"/>
<rect x="552" y="472" width="2" height="8" fill="#008000"/>
<rect x="555" y="474" width="2" height="6" fill="#008000"/>
<rect x="558" y="472" width="2" height="8" fill="#008000"/>
<rect x="561" y="474" width="2" height="6" fill="#e00000"/>
<rect x="564" y="453" width="2" height="27" fill="#e00000"/>
<rect x="568" y="443" width="2" height="37" fill="#008000"/>
<rect x="571" y="458" width="2" height="22" fill="#008000"/>
<rect x="574" y="470" width="2" height="10" fill="#e00000"/>
<rect x="577" y="455" width="2" height="25" fill="#e00000"/>
<rect x="580" y="465" width="2" height="15" fill="#e00000"/>
<rect x="583" y="467" width="2" height="13" fill="#008000"/>
<rect x="586" y="472" width="2" height="8" fill="#008000"/>
<rect x="589" y="472" width="2" height="8" fill="#e00000"/>
<rect x="592" y="467" width="2" height="13" fill="#008000"/>
<rect x="596" y="474" width="2" height="6" fill="#008000"/>
<rect x="599" y="475" width="2" height="5" fill="#008000"/>
<rect x="602" y="473" width="2" height="7" fill="#008000"/>
<rect x="605" y="473" width="2" height="7" fill="#008000"/>
<rect x="608" y="470" width="2" height="10" fill="#e00000"/>
<rect x="611" y="472" width="2" height="8" fill="#008000"/>
<rect x="614" y="470" width="2" height="10" fill="#008000"/>
<rect x="617" y="470" width="2" height="10" fill="#e00000"/>
<rect x="620" y="473" width="2" height="7" fill="#008000"/>
<rect x="624" y="474" width="2" height="6" fill="#008000"/>
<rect x="627" y="475" width="2" height="5" fill="#e00000"/>
<rect x="630" y="474" width="2" height="6" fill="#e00000"/>
<rect x="633" y="469" width="2" height="11" fill="#e00000"/>
<rect x="636" y="466" width="2" height="14" fill="#e00000"/>
<rect x="639" y="467" width="2" height="13" fill="#008000"/>
<rect x="642" y="467" width="2" height="13" fill="#e00000"/>
<rect x="645" y="469" width="2" height="11" fill="#e00000"/>
<rect x="649" y="472" width="2" height="8" fill="#008000"/>
<rect x="652" y="455" width="2" height="25" fill="#e00000"/>
<rect x="655" y="459" width="2" height="21" fill="#008000"/>
<rect x="658" y="466" width="2" height="14" fill="#008000"/>
<rect x="661" y="470" width="2" height="10" fill="#e00000"/>
<rect x="664" y="473" width="2" height="7" fill="#008000"/>
<rect x="667" y="465" width="2" height="15" fill="#008000"/>
<rect x="670" y="470" width="2" height="10" fill="#008000"/>
<rect x="673" y="474" width="2" height="6" fill="#008000"/>
<rect x="677" y="474" width="2" height="6" fill="#008000"/>
<rect x="680" y="470" width="2" height="10" fill="#e00000"/>
<rect x="683" y="473" width="2" height="7" fill="#008000"/>
<rect x="686" y="453" width="2" height="27" fill="#e00000"/>
<rect x="689" y="467" width="2" height="13" fill="#008000"/>
<rect x="692" y="468" width="2" height="12" fill="#e00000"/>
<rect x="695" y="464" width="2" height="16" fill="#008000"/>
<rect x="698" y="469" width="2" height="11" fill="#008000"/>
<rect x="701" y="470" width="2" height="10" fill="#e00000"/>
<rect x="705" y="472" width="2" height="8" fill="#008000"/>
<rect x="708" y="473" width="2" height="7" fill="#e00000"/>
<rect x="711" y="473" width="2" height="7" fill="#008000"/>
<rect x="714" y="475" width="2" height="5" fill="#e00000"/>
<rect x="717" y="468" width="2" height="12" fill="#e00000"/>
<rect x="720" y="472" width="2" height="8" fill="#008000"/>
<rect x="723" y="470" width="2" height="10" fill="#e00000"/>
<rect x="726" y="454" width="2" height="26" fill="#e00000"/>
<rect x="729" y="462" width="2" height="18" fill="#008000"/>
<rect x="733" y="469" width="2" height="11" fill="#008000"/>
<rect x="736" y="468" width="2" height="12" fill="#e00000"/>
<rect x="739" y="469" width="2" height="11" fill="#008000"/>
<rect x="742" y="442" width="2" height="38" fill="#e00000"/>
<rect x="745" y="448" width="2" height="32" fill="#e00000"/>
<rect x="748" y="437" width="2" height="43" fill="#e00000"/>
<rect x="751" y="455" width="2" height="25" fill="#008000"/>
<rect x="754" y="448" width="2" height="32" fill="#e00000"/>
<rect x="757" y="454" width="2" height="26" fill="#008000"/>
<rect x="2" y="531" width="1" height="2" fill="#d02020"/>
<rect x="5" y="531" width="1" height="2" fill="#d02020"/>
<rect x="8" y="530" width="1" height="3" fill="#d02020"/>
<rect x="11" y="526" width="1" height="7" fill="#d02020"/>
<rect x="14" y="525" width="1" height="8" fill="#d02020"/>
<rect x="18" y="523" width="1" height="10" fill="#d02020"/>
<rect x="21" y="526" width="1" height="7" fill="#d02020"/>
<rect x="24" y="527" width="1" height="6" fill="#d02020"/>
<rect x="27" y="530" width="1" height="3" fill="#d02020"/>
<rect x="30" y="532" width="1" height="1" fill="#d02020"/>
<rect x="33" y="533" width="1" height="1" fill="#208020"/>
<rect x="36" y="533" width="1" height="3" fill="#208020"/>
<rect x="39" y="533" width="1" height="4" fill="#208020"/>
<rect x="42" y="533" width="1" height="7" fill="#208020"/>
<rect x="46" y="533" width="1" height="8" fill="#208020"/>
<rect x="49" y="533" width="1" height="11" fill="#208020"/>
<rect x="52" y="533" width="1" height="11" fill="#208020"/>
<rect x="55" y="533" width="1" height="11" fill="#208020"/>
<rect x="58" y="533" width="1" height="11" fill="#208020"/>
<rect x="61" y="533" width="1" height="9" fill="#208020"/>
<rect x="64" y="533" width="1" height="7" fill="#208020"/>
<rect x="67" y="533" width="1" height="5" fill="#208020"/>
<rect x="70" y="533" width="1" height="3" fill="#208020"/>
<rect x="74" y="533" width="1" height="1" fill="#208020"/>
<rect x="77" y="533" width="1" height="1" fill="#208020"/>
<rect x="80" y="532" width="1" height="1" fill="#d02020"/>
<rect x="83" y="532" width="1" height="1" fill="#d02020"/>
<rect x="86" y="532" width="1" height="1" fill="#d02020"/>
<rect x="89" y="532" width="1" height="1" fill="#d02020"/>
<rect x="92" y="532" width="1" height="1" fill="#d02020"/>
<rect x="95" y="532" width="1" height="1" fill="#d02020"/>
<rect x="99" y="532" width="1" height="1" fill="#d02020"/>
<rect x="102" y="532" width="1" height="1" fill="#d02020"/>
<rect x="105" y="532" width="1" height="1" fill="#d02020"/>
<rect x="108" y="532" width="1" height="1" fill="#d02020"/>
<rect x="111" y="532" width="1" height="1" fill="#d02020"/>
<rect x="114" y="532" width="1" height="1" fill="#d02020"/>
<rect x="117" y="533" width="1" height="1" fill="#208020"/>
<rect x="120" y="533" width="1" height="1" fill="#208020"/>
<rect x="123" y="533" width="1" height="2" fill="#208020"/>
<rect x="127" y="533" width="1" height="1" fill="#208020"/>
<rect x="130" y="532" width="1" height="1" fill="#d02020"/>
<rect x="133" y="531" width="1" height="2" fill="#d02020"/>
<rect x="136" y="530" width="1" height="3" fill="#d02020"/>
<rect x="139" y="530" width="1" height="3" fill="#d02020"/>
<rect x="142" y="529" width="1" height="4" fill="#d02020"/>
<rect x="145" y="530" width="1" height="3" fill="#d02020"/>
<rect x="148" y="530" width="1" height="3" fill="#d02020"/>
<rect x="151" y="530" width="1" height="3" fill="#d02020"/>
<rect x="155" y="529" width="1" height="4" fill="#d02020"/>
<rect x="158" y="525" width="1" height="8" fill="#d02020"/>
<rect x="161" y="521" width="1" height="12" fill="#d02020"/>
<rect x="164" y="519" width="1" height="14" fill="#d02020"/>
<rect x="167" y="520" width="1" height="13" fill="#d02020"/>
<rect x="170" y="521" width="1" height="12" fill="#d02020"/>
<rect x="173" y="519" width="1" height="14" fill="#d02020"/>
<rect x="176" y="515" width="1" height="18" fill="#d02020"/>
<rect x="179" y="512" width="1" height="21" fill="#d02020"/>
<rect x="183" y="513" width="1" height="20" fill="#d02020"/>
<rect x="186" y="519" width="1" height="14" fill="#d02020"/>
<rect x="189" y="521" width="1" height="12" fill="#d02020"/>
<rect x="192" y="523" width="1" height="10" fill="#d02020"/>
<rect x="195" y="525" width="1" height="8" fill="#d02020"/>
<rect x="198" y="531" width="1" height="2" fill="#d02020"/>
<rect x="201" y="533" width="1" height="1" fill="#208020"/>
<rect x="204" y="533" width="1" height="2" fill="#208020"/>
<rect x="207" y="533" width="1" height="3" fill="#208020"/>
<rect x="211" y="533" width="1" height="2" fill="#208020"/>
<rect x="214" y="533" width="1" height="1" fill="#208020"/>
<rect x="217" y="533" width="1" height="1" fill="#208020"/>
<rect x="220" y="533" width="1" height="1" fill="#208020"/>
<rect x="223" y="533" width="1" height="2" fill="#208020"/>
<rect x="226" y="533" width="1" height="4" fill="#208020"/>
<rect x="229" y="533" width="1" height="7" fill="#208020"/>
<rect x="232" y="533" width="1" height="7" fill="#208020"/>
<rect x="235" y="533" width="1" height="4" fill="#208020"/>
<rect x="239" y="533" width="1" height="1" fill="#208020"/>
<rect x="242" y="533" width="1" height="1" fill="#208020"/>
<rect x="245" y="533" width="1" height="1" fill="#208020"/>
<rect x="248" y="533" width="1" height="3" fill="#208020"/>
<rect x="251" y="533" width="1" height="6" fill="#208020"/>
<rect x="254" y="533" width="1" height="9" fill="#208020"/>
<rect x="257" y="533" width="1" height="13" fill="#208020"/>
<rect x="260" y="533" width="1" height="15" fill="#208020"/>
<rect x="263" y="533" width="1" height="13" fill="#208020"/>
<rect x="267" y="533" width="1" height="14" fill="#208020"/>
<rect x="270" y="533" width="1" height="13" fill="#208020"/>
<rect x="273" y="533" width="1" height="13" fill="#208020"/>
<rect x="276" y="533" width="1" height="14" fill="#208020"/>
<rect x="279" y="533" width="1" height="16" fill="#208020"/>
<rect x="282" y="533" width="1" height="16" fill="#208020"/>
<rect x="285" y="533" width="1" height="12" fill="#208020"/>
<rect x="288" y="533" width="1" height="17" fill="#208020"/>
<rect x="292" y="533" width="1" height="18" fill="#208020"/>
<rect x="295" y="533" width="1" height="18" fill="#208020"/>
<rect x="298" y="533" width="1" height="19" fill="#208020"/>
<rect x="301" y="533" width="1" height="22" fill="#208020"/>
<rect x="304" y="533" width="1" height="22" fill="#208020"/>
<rect x="307" y="533" width="1" height="19" fill="#208020"/>
<rect x="310" y="533" width="1" height="18" fill="#208020"/>
<rect x="313" y="533" width="1" height="14" fill="#208020"/>
<rect x="316" y="533" width="1" height="11" fill="#208020"/>
<rect x="320" y="533" width="1" height="9" fill="#208020"/>
<rect x="323" y="533" width="1" height="6" fill="#208020"/>
<rect x="326" y="533" width="1" height="3" fill="#208020"/>
<rect x="329" y="533" width="1" height="2" fill="#208020"/>
<rect x="332" y="533" width="1" height="3" fill="#208020"/>
<rect x="335" y="533" width="1" height="1" fill="#208020"/>
<rect x="338" y="533" width="1" height="1" fill="#208020"/>
<rect x="341" y="532" width="1" height="1" fill="#d02020"/>
<rect x="344" y="532" width="1" height="1" fill="#d02020"/>
<rect x="348" y="530" width="1" height="3" fill="#d02020"/>
<rect x="351" y="531" width="1" height="2" fill="#d02020"/>
<rect x="354" y="530" width="1" height="3" fill="#d02020"/>
<rect x="357" y="531" width="1" height="2" fill="#d02020"/>
<rect x="360" y="531" width="1" height="2" fill="#d02020"/>
<rect x="363" y="530" width="1" height="3" fill="#d02020"/>
<rect x="366" y="530" width="1" height="3" fill="#d02020"/>
<rect x="369" y="531" width="1" height="2" fill="#d02020"/>
<rect x="372" y="530" width="1" height="3" fill="#d02020"/>
<rect x="376" y="530" width="1" height="3" fill="#d02020"/>
<rect x="379" y="531" width="1" height="2" fill="#d02020"/>
<rect x="382" y="531" width="1" height="2" fill="#d02020"/>
<rect x="385" y="531" width="1" height="2" fill="#d02020"/>
<rect x="388" y="531" width="1" height="2" fill="#d02020"/>
<rect x="391" y="531" width="1" height="2" fill="#d02020"/>
<rect x="394" y="530" width="1" height="3" fill="#d02020"/>
<rect x="397" y="531" width="1" height="2" fill="#d02020"/>
<rect x="400" y="531" width="1" height="2" fill="#d02020"/>
<rect x="404" y="531" width="1" height="2" fill="#d02020"/>
<rect x="407" y="531" width="1" height="2" fill="#d02020"/>
<rect x="410" y="531" width="1" height="2" fill="#d02020"/>
<rect x="413" y="530" width="1" height="3" fill="#d02020"/>
<rect x="416" y="531" width="1" height="2" fill="#d02020"/>
<rect x="419" y="531" width="1" height="2" fill="#d02020"/>
<rect x="422" y="530" width="1" height="3" fill="#d02020"/>
<rect x="425" y="529" width="1" height="4" fill="#d02020"/>
<rect x="428" y="530" width="1" height="3" fill="#d02020"/>
<rect x="432" y="530" width="1" height="3" fill="#d02020"/>
<rect x="435" y="531" width="1" height="2" fill="#d02020"/>
<rect x="438" y="532" width="1" height="1" fill="#d02020"/>
<rect x="441" y="533" width="1" height="1" fill="#208020"/>
<rect x="444" y="532" width="1" height="1" fill="#d02020"/>
<rect x="447" y="532" width="1" height="1" fill="#d02020"/>
<rect x="450" y="533" width="1" height="1" fill="#208020"/>
<rect x="453" y="532" width="1" height="1" fill="#d02020"/>
<rect x="456" y="532" width="1" height="1" fill="#d02020"/>
<rect x="460" y="533" width="1" height="1" fill="#208020"/>
<rect x="463" y="532" width="1" height="1" fill="#d02020"/>
<rect x="466" y="532" width="1" height="1" fill="#d02020"/>
<rect x="469" y="533" width="1" height="1" fill="#208020"/>
<rect x="472" y="532" width="1" height="1" fill="#d02020"/>
<rect x="475" y="532" width="1" height="1" fill="#d02020"/>
<rect x="478" y="533" width="1" height="1" fill="#208020"/>
<rect x="481" y="532" width="1" height="1" fill="#d02020"/>
<rect x="485" y="532" width="1" height="1" fill="#d02020"/>
<rect x="488" y="533" width="1" height="1" fill="#208020"/>
<rect x="491" y="532" width="1" height="1" fill="#d02020"/>
<rect x="494" y="532" width="1" height="1" fill="#d02020"/>
<rect x="497" y="533" width="1" height="1" fill="#208020"/>
<rect x="500" y="533" width="1" height="5" fill="#208020"/>
<rect x="503" y="533" width="1" height="5" fill="#208020"/>
<rect x="506" y="533" width="1" height="5" fill="#208020"/>
<rect x="509" y="533" width="1" height="4" fill="#208020"/>
<rect x="513" y="533" width="1" height="4" fill="#208020"/>
<rect x="516" y="533" width="1" height="3" fill="#208020"/>
<rect x="519" y="533" width="1" height="3" fill="#208020"/>
<rect x="522" y="533" width="1" height="1" fill="#208020"/>
<rect x="525" y="533" width="1" height="1" fill="#208020"/>
<rect x="528" y="533" width="1" height="1" fill="#208020"/>
<rect x="531" y="533" width="1" height="1" fill="#208020"/>
<rect x="534" y="531" width="1" height="2" fill="#d02020"/>
<rect x="537" y="530" width="1" height="3" fill="#d02020"/>
<rect x="541" y="528" width="1" height="5" fill="#d02020"/>
<rect x="544" y="527" width="1" height="6" fill="#d02020"/>
<rect x="547" y="529" width="1" height="4" fill="#d02020"/>
<rect x="550" y="530" width="1" height="3" fill="#d02020"/>
<rect x="553" y="531" width="1" height="2" fill="#d02020"/>
<rect x="556" y="531" width="1" height="2" fill="#d02020"/>
<rect x="559" y="532" width="1" height="1" fill="#d02020"/>
<rect x="562" y="531" width="1" height="2" fill="#d02020"/>
<rect x="565" y="528" width="1" height="5" fill="#d02020"/>
<rect x="569" y="526" width="1" height="7" fill="#d02020"/>
<rect x="572" y="526" width="1" height="7" fill="#d02020"/>
<rect x="575" y="525" width="1" height="8" fill="#d02020"/>
<rect x="578" y="523" width="1" height="10" fill="#d02020"/>
<rect x="581" y="522" width="1" height="11" fill="#d02020"/>
<rect x="584" y="523" width="1" height="10" fill="#d02020"/>
<rect x="587" y="525" width="1" height="8" fill="#d02020"/>
<rect x="590" y="527" width="1" height="6" fill="#d02020"/>
<rect x="593" y="528" width="1" height="5" fill="#d02020"/>
<rect x="597" y="529" width="1" height="4" fill="#d02020"/>
<rect x="600" y="530" width="1" height="3" fill="#d02020"/>
<rect x="603" y="532" width="1" height="1" fill="#d02020"/>
<rect x="606" y="532" width="1" height="1" fill="#d02020"/>
<rect x="609" y="533" width="1" height="1" fill="#208020"/>
<rect x="612" y="533" width="1" height="3" fill="#208020"/>
<rect x="615" y="533" width="1" height="4" fill="#208020"/>
<rect x="618" y="533" width="1" height="5" fill="#208020"/>
<rect x="621" y="533" width="1" height="6" fill="#208020"/>
<rect x="625" y="533" width="1" height="7" fill="#208020"/>
<rect x="628" y="533" width="1" height="7" fill="#208020"/>
<rect x="631" y="533" width="1" height="5" fill="#208020"/>
<rect x="634" y="533" width="1" height="3" fill="#208020"/>
<rect x="637" y="533" width="1" height="1" fill="#208020"/>
<rect x="640" y="533" width="1" height="1" fill="#208020"/>
<rect x="643" y="533" width="1" height="1" fill="#208020"/>
<rect x="646" y="532" width="1" height="1" fill="#d02020"/>
<rect x="650" y="532" width="1" height="1" fill="#d02020"/>
<rect x="653" y="531" width="1" height="2" fill="#d02020"/>
<rect x="656" y="532" width="1" height="1" fill="#d02020"/>
<rect x="659" y="531" width="1" height="2" fill="#d02020"/>
<rect x="662" y="532" width="1" height="1" fill="#d02020"/>
<rect x="665" y="531" width="1" height="2" fill="#d02020"/>
<rect x="668" y="532" width="1" height="1" fill="#d02020"/>
<rect x="671" y="531" width="1" height="2" fill="#d02020"/>
<rect x="674" y="533" width="1" height="2" fill="#208020"/>
<rect x="678" y="533" width="1" height="2" fill="#208020"/>
<rect x="681" y="533" width="1" height="2" fill="#208020"/>
<rect x="684" y="533" width="1" height="2" fill="#208020"/>
<rect x="687" y="533" width="1" height="2" fill="#208020"/>
<rect x="690" y="533" width="1" height="2" fill="#208020"/>
<rect x="693" y="533" width="1" height="2" fill="#208020"/>
<rect x="696" y="533" width="1" height="2" fill="#208020"/>
<rect x="699" y="533" width="1" height="2" fill="#208020"/>
<rect x="702" y="533" width="1" height="2" fill="#208020"/>
<rect x="706" y="533" width="1" height="2" fill="#208020"/>
<rect x="709" y="533" width="1" height="2" fill="#208020"/>
<rect x="712" y="533" width="1" height="2" fill="#208020"/>
<rect x="715" y="533" width="1" height="2" fill="#208020"/>
<rect x="718" y="532" width="1" height="1" fill="#d02020"/>
<rect x="721" y="533" width="1" height="1" fill="#208020"/>
<rect x="724" y="532" width="1" height="1" fill="#d02020"/>
<rect x="727" y="532" width="1" height="1" fill="#d02020"/>
<rect x="730" y="533" width="1" height="1" fill="#208020"/>
<rect x="734" y="532" width="1" height="1" fill="#d02020"/>
<rect x="737" y="532" width="1" height="1" fill="#d02020"/>
<rect x="740" y="533" width="1" height="1" fill="#208020"/>
<rect x="743" y="532" width="1" height="1" fill="#d02020"/>
<rect x="746" y="529" width="1" height="4" fill="#d02020"/>
<rect x="749" y="528" width="1" height="5" fill="#d02020"/>
<rect x="752" y="526" width="1" height="7" fill="#d02020"/>
<rect x="755" y="526" width="1" height="7" fill="#d02020"/>
<rect x="758" y="526" width="1" height="7" fill="#d02020"/>
<rect x="762" y="528" width="1" height="5" fill="#d02020"/>
<rect x="765" y="529" width="1" height="4" fill="#d02020"/>
<rect x="768" y="530" width="1" height="3" fill="#d02020"/>
<rect x="771" y="531" width="1" height="2" fill="#d02020"/>
<rect x="774" y="532" width="1" height="1" fill="#d02020"/>
<rect x="777" y="532" width="1" height="1" fill="#d02020"/>
<rect x="780" y="533" width="1" height="2" fill="#208020"/>
<rect x="783" y="533" width="1" height="2" fill="#208020"/>
<rect x="786" y="533" width="1" height="2" fill="#208020"/>
<rect x="790" y="533" width="1" height="2" fill="#208020"/>
<rect x="793" y="533" width="1" height="2" fill="#208020"/>
<rect x="796" y="533" width="1" height="2" fill="#208020"/>
<rect x="799" y="533" width="1" height="2" fill="#208020"/>
<rect x="802" y="533" width="1" height="2" fill="#208020"/>
<rect x="805" y="533" width="1" height="2" fill="#208020"/>
<rect x="808" y="533" width="1" height="2" fill="#208020"/>
<rect x="811" y="533" width="1" height="2" fill="#208020"/>
<rect x="814" y="533" width="1" height="2" fill="#208020"/>
<rect x="818" y="533" width="1" height="2" fill="#208020"/>
<rect x="821" y="533" width="1" height="2" fill="#208020"/>
<rect x="824" y="533" width="1" height="2" fill="#208020"/>
<rect x="827" y="533" width="1" height="2" fill="#208020"/>
<rect x="830" y="533" width="1" height="2" fill="#208020"/>
<rect x="833" y="533" width="1" height="2" fill="#208020"/>
<rect x="836" y="533" width="1" height="2" fill="#208020"/>
<rect x="839" y="533" width="1" height="2" fill="#208020"/>
<rect x="843" y="533" width="1" height="2" fill="#208020"/>
<rect x="846" y="533" width="1" height="2" fill="#208020"/>
<rect x="849" y="533" width="1" height="2" fill="#208020"/>
<rect x="852" y="533" width="1" height="2" fill="#208020"/>
</g>
<g clip-path="url(#dc)">
<polyline points="0.0,527.3 4.4,526.4 8.7,526.0 13.1,525.1 17.5,523.8 21.9,522.1 26.2,520.6 30.6,520.0 36.7,520.7 43.7,521.6 49.0,523.8 54.2,526.4 59.5,529.5 63.0,530.8 68.2,531.7 72.6,532.0 80.0,531.3 90.0,531.2 100.0,531.3 110.0,531.0 120.0,531.4 127.7,531.0 131.2,530.0 140.0,528.3 147.0,527.1 154.0,525.9 159.8,523.6 165.7,520.1 172.7,516.6 178.5,512.5 184.3,507.8 190.2,504.3 196.0,502.0 200.7,500.8 206.5,501.4 212.3,503.2 219.3,502.6 224.0,503.8 231.0,505.5 235.0,506.5 240.8,505.7 247.8,506.1 256.0,510.2 265.3,514.8 273.5,519.5 281.7,524.2 288.7,528.8 295.7,533.5 302.7,539.3 309.7,545.2 316.7,548.7 323.7,551.0 330.7,552.8 339.7,552.7 345.7,553.2 354.2,551.2 362.6,549.3 371.1,548.1 380.7,546.9 390.4,545.5 398.8,545.1 407.3,542.7 417.0,540.9 426.6,538.7 434.7,537.0 444.3,537.9 455.2,537.9 466.1,537.0 475.7,538.5 485.4,539.1 497.5,539.9 504.7,540.9 514.4,543.1 520.0,543.9 532.1,543.9 544.2,540.9 556.2,538.5 563.5,537.9 570.7,536.1 578.0,532.4 585.2,530.0 592.5,527.6 602.1,525.8 611.8,526.4 615.0,527.0 622.2,528.8 629.5,531.2 636.7,533.0 644.0,533.4 651.2,531.8 658.5,530.0 665.7,529.4 675.4,530.0 682.6,530.6 692.3,530.0 702.0,530.3 711.6,531.2 722.1,531.2 734.2,531.0 741.4,531.2 749.9,528.8 758.3,525.8 765.6,524.2 775.2,523.4 782.5,523.0 792.1,524.0 799.4,525.2 810.0,526.2 819.5,527.6 834.3,529.0 850.5,529.8 852.5,531.2" fill="none" stroke="#10108a" stroke-width="1.2" stroke-linejoin="round" shape-rendering="crispEdges" />
<polyline points="0.0,526.4 4.4,524.7 8.7,522.9 13.1,520.7 17.5,518.1 21.0,516.8 25.4,517.1 28.9,518.6 33.2,520.3 37.6,520.7 41.1,522.9 45.5,526.0 49.9,528.6 54.2,532.1 57.7,533.9 61.2,534.7 65.6,533.9 70.0,532.6 75.0,531.5 80.0,530.8 90.0,530.6 100.0,531.0 105.0,530.4 110.0,530.6 115.0,531.0 120.0,531.5 127.7,531.0 131.2,528.6 140.0,526.5 144.7,525.3 152.8,524.8 157.5,521.3 162.2,516.0 166.8,513.1 170.3,511.3 175.0,507.3 178.5,503.2 180.8,499.1 183.2,497.3 186.7,499.1 190.2,497.9 193.7,497.1 197.2,498.5 199.5,500.8 205.3,502.0 210.0,504.9 214.7,504.3 219.3,503.2 224.0,504.3 228.7,508.4 233.3,509.6 238.0,507.0 245.5,506.7 250.2,510.8 258.3,516.6 265.3,521.8 272.3,525.3 279.3,530.6 286.3,534.7 293.3,540.5 300.3,547.5 306.2,553.3 309.7,555.0 315.0,556.0 320.0,555.5 323.7,554.2 330.0,554.2 337.2,553.0 344.5,553.0 350.5,550.6 360.2,548.1 368.6,547.2 377.1,548.1 384.3,544.5 392.8,543.9 400.0,542.7 407.3,540.3 414.5,538.5 421.8,537.3 426.6,536.1 434.7,535.5 443.1,537.3 455.2,537.3 466.1,536.7 473.3,537.9 485.4,539.1 497.5,540.3 502.3,541.5 507.1,543.9 512.0,545.1 520.0,544.8 526.0,544.5 532.1,543.3 539.3,538.5 544.2,537.3 551.4,537.3 559.9,537.3 565.9,534.9 570.7,532.4 576.8,531.2 582.8,529.4 587.6,525.2 592.5,524.0 597.3,524.6 604.5,526.4 611.8,528.5 615.0,530.0 621.0,531.2 627.1,532.4 633.1,533.6 639.2,533.6 646.4,532.4 652.4,531.2 658.5,528.8 663.3,528.2 668.1,528.6 673.0,529.4 680.2,530.6 685.0,531.2 689.9,530.0 697.1,530.0 704.4,531.2 711.6,531.2 722.1,531.2 734.2,530.6 741.4,530.6 746.2,527.6 752.3,524.6 758.3,522.2 763.1,521.3 775.2,521.3 780.0,522.5 787.3,523.7 794.5,524.2 801.8,525.8 810.0,526.6 819.5,528.0 834.3,529.4 850.5,530.2 852.5,531.6" fill="none" stroke="#000" stroke-width="1.2" stroke-linejoin="round" shape-rendering="crispEdges" />
</g>
<text x="-1" y="30.7" font-family="Liberation Sans, sans-serif" font-size="11.2" fill="#12127e" textLength="46" lengthAdjust="spacingAndGlyphs">n=7.0265</text>
<text x="70.2" y="30.7" font-family="Liberation Sans, sans-serif" font-size="11.2" fill="#c01520" textLength="49.5" lengthAdjust="spacingAndGlyphs">Bt=5.7653</text>
<text x="766.30 773.05 779.80 786.55 793.30 800.05" y="29.7" font-family="Liberation Sans, sans-serif" font-size="11.8" fill="#10108c" stroke="#10108c" stroke-width="0.2">002518</text>
<text x="816" y="30.2" font-family="Liberation Sans, Noto Sans CJK SC, sans-serif" font-size="12.6" font-weight="500" fill="#10108c">科士达</text>
<polyline points="239.5,116.5 241.7,116.5 258.5,121.8" fill="none" stroke="#2a2ac8" stroke-width="1"/>
<text x="260" y="131.8" font-family="Liberation Sans, sans-serif" font-size="11" fill="#2a2ac8" textLength="44.5" lengthAdjust="spacingAndGlyphs">14.1700</text>
<text x="289.8" y="410.2" font-family="Liberation Sans, sans-serif" font-size="11.5" fill="#e02020" textLength="5.6" lengthAdjust="spacingAndGlyphs">$</text>
<polygon points="802.5,411 798.5,415.5 806.5,415.5" fill="#000"/>
<line x1="760" y1="218.5" x2="853" y2="218.5" stroke="#6e6e58" stroke-width="1" stroke-dasharray="2 1" shape-rendering="crispEdges"/>
<rect x="669" y="241" width="81" height="15" fill="none" stroke="#f070f0" stroke-width="2"/>
<polygon points="661.2,161.2 661.8,161.0 705.6,223.4 702.9,225.2" fill="#000"/>
<polygon points="700.6,226.8 708.0,221.6 709.0,231.8" fill="#000"/>
<line x1="565.5" y1="17" x2="565.5" y2="563" stroke="#000" stroke-width="1" stroke-dasharray="3 3" shape-rendering="crispEdges"/>
<ellipse cx="566.8" cy="263.6" rx="10.2" ry="17" fill="none" stroke="#e83a3a" stroke-width="2.6"/>
<ellipse cx="565.5" cy="464.3" rx="10.2" ry="15.8" fill="none" stroke="#e83a3a" stroke-width="2.6"/>
<ellipse cx="570.7" cy="532.4" rx="7.6" ry="13" fill="none" stroke="#e83a3a" stroke-width="2.6"/>
<rect x="537" y="5" width="55.5" height="12" fill="#d40000"/>
<text x="538" y="16" font-family="Liberation Sans, sans-serif" font-size="12" fill="#fff" textLength="54" lengthAdjust="spacingAndGlyphs">2019-09-03</text>
<text x="512.5" y="78.7" font-family="Liberation Sans, Noto Sans CJK SC, sans-serif" font-size="16" letter-spacing="0.12" fill="#d42ad8">9月3日股价放量突破生命线<tspan font-family="Noto Sans CJK TC, sans-serif">，</tspan>随后沿着蓝色线</text>
<text x="512.5" y="100.7" font-family="Liberation Sans, Noto Sans CJK SC, sans-serif" font-size="16" letter-spacing="0.12" fill="#d42ad8">与生命线通道运行<tspan font-family="Noto Sans CJK TC, sans-serif">，</tspan>近期股价从蓝色线回落后在</text>
<text x="512.5" y="122.0" font-family="Liberation Sans, Noto Sans CJK SC, sans-serif" font-size="16" letter-spacing="0.12" fill="#d42ad8">生命线附近横盘整理蓄势<tspan font-family="Noto Sans CJK TC, sans-serif">，</tspan>随后再起一波拉升<tspan font-family="Noto Sans CJK TC, sans-serif">；</tspan></text>
<text x="711.5" y="275.2" font-family="Liberation Sans, Noto Sans CJK SC, sans-serif" font-size="16" fill="#d83ad8">蓄势整理后再起</text>
</svg></body></html>
